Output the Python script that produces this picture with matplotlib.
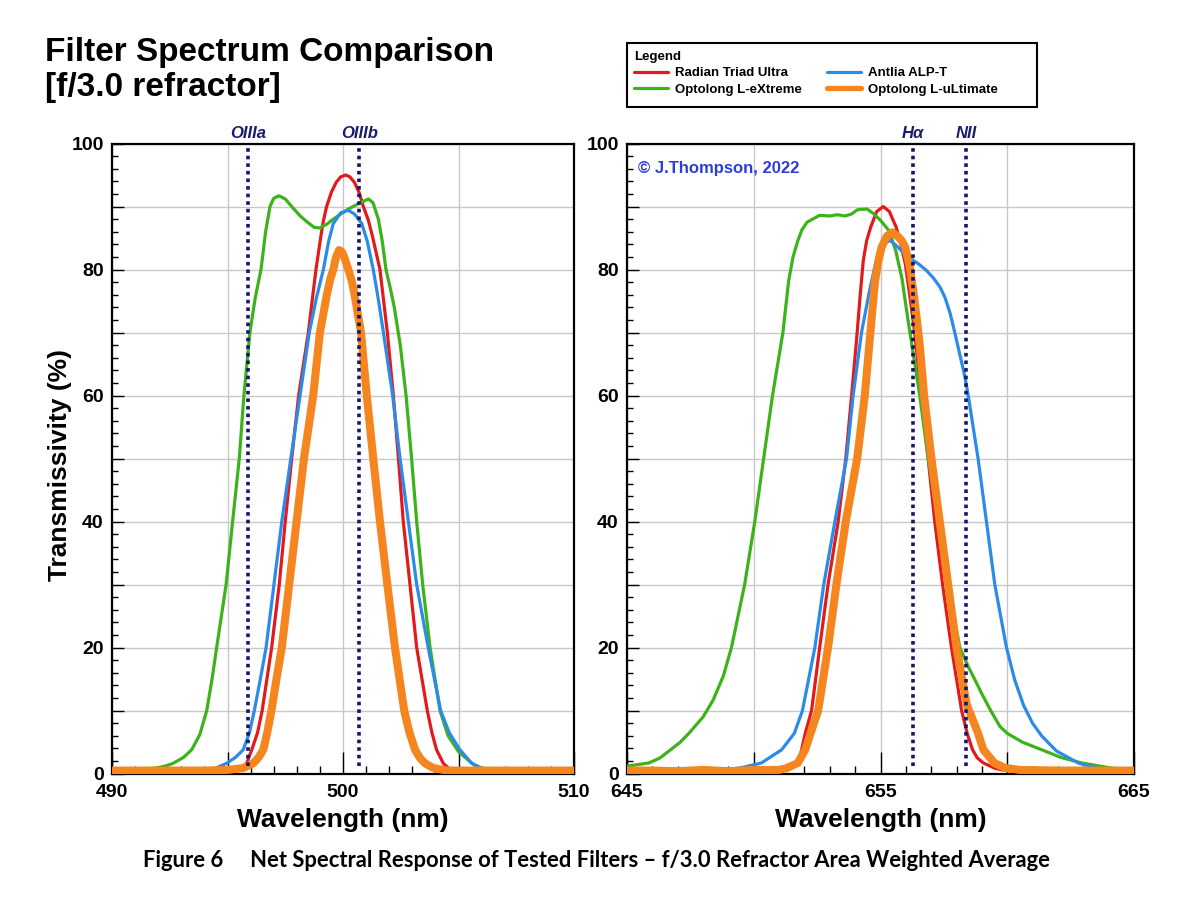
import matplotlib
matplotlib.use('Agg')
import matplotlib.pyplot as plt
from matplotlib.ticker import MultipleLocator, FuncFormatter
from matplotlib.lines import Line2D
from matplotlib.patches import Rectangle
import matplotlib.transforms as mtransforms

plt.rcParams['font.family'] = ['Liberation Sans', 'DejaVu Sans']
plt.rcParams['font.weight'] = 'bold'

# ---------------- data: OIII panel ----------------
oiii_red_wl = [490, 492, 494, 495.0, 495.3, 495.54, 495.83, 496.05, 496.3, 496.5, 496.91, 497.24,
               497.5, 497.78, 498.08, 498.5, 498.68, 498.83, 499.03, 499.15, 499.29, 499.5, 499.7,
               499.9, 500.12, 500.3, 500.5, 500.7, 500.88, 501.1, 501.28, 501.6, 501.92, 502.18,
               502.4, 502.61, 502.9, 503.19, 503.65, 503.85, 504.05, 504.34, 504.56, 504.8, 505.2,
               507.0, 510]
oiii_red_T = [0.4, 0.4, 0.4, 0.5, 0.7, 0.9, 1.65, 3.8, 6.5, 10, 20, 30,
              40, 50, 60, 70, 75.5, 80, 85, 87.7, 90, 92.3, 93.8,
              94.7, 95.0, 94.7, 93.8, 92.2, 90, 87.8, 85.2, 80, 70, 60,
              50, 40, 30, 20, 10, 6.5, 3.8, 1.65, 0.9, 0.6, 0.45,
              0.4, 0.4]

oiii_blue_wl = [490, 493, 493.6, 494.0, 494.5, 494.96, 495.35, 495.68, 495.95, 496.16, 496.42,
                496.67, 497.01, 497.35, 497.74, 498.14, 498.54, 498.85, 499.15, 499.38, 499.58,
                499.9, 500.23, 500.5, 500.81, 501.05, 501.31, 501.52, 501.75, 502.15, 502.47,
                502.83, 503.19, 503.69, 504.23, 504.6, 505.06, 505.57, 505.93, 506.5, 507.2, 510]
oiii_blue_T = [0.3, 0.3, 0.4, 0.5, 0.9, 1.65, 2.6, 3.8, 6.5, 10, 15,
               20, 30, 40, 50, 60, 70, 75.5, 80, 84.5, 87.3,
               89.0, 89.4, 88.8, 87.3, 84.5, 80, 75.5, 70, 60, 50,
               40, 30, 20, 10, 6.5, 3.8, 1.65, 0.9, 0.5, 0.4, 0.3]

oiii_green_wl = [490, 491, 491.9, 492.3, 492.65, 493.1, 493.45, 493.8, 494.1, 494.33, 494.53,
                 494.94, 495.22, 495.51, 495.71, 495.97, 496.2, 496.45, 496.65, 496.84, 497.0,
                 497.23, 497.5, 497.85, 498.15, 498.43, 498.75, 499.0, 499.3, 499.58, 499.9,
                 500.23, 500.7, 501.1, 501.3, 501.53, 501.7, 501.86, 502.05, 502.22, 502.48,
                 502.73, 502.97, 503.19, 503.45, 503.77, 504.2, 504.55, 505.0, 505.6, 506.0,
                 506.5, 507.0, 510]
oiii_green_T = [0.5, 0.6, 0.9, 1.2, 1.65, 2.6, 3.8, 6.2, 10, 15, 20,
                30, 40, 50, 60, 70, 75.5, 80, 86, 90, 91.3,
                91.7, 91.2, 89.7, 88.5, 87.6, 86.7, 86.6, 87.2, 88.0, 88.8,
                89.6, 90.5, 91.2, 90.6, 88.0, 84.5, 80, 77, 74, 68,
                60, 50, 40, 30, 20, 10, 6.0, 3.5, 1.6, 0.9,
                0.6, 0.5, 0.4]

oiii_orange_wl = [490, 492, 494, 495.0, 495.68, 496.12, 496.35, 496.55, 496.72, 496.9, 497.12,
                  497.35, 497.67, 497.99, 498.31, 498.71, 499.0, 499.3, 499.45, 499.58, 499.7,
                  499.83, 499.95, 500.05, 500.23, 500.38, 500.5, 500.78, 501.03, 501.31, 501.6,
                  501.92, 502.25, 502.65, 502.88, 503.12, 503.33, 503.55, 503.91, 504.5, 507, 510]
oiii_orange_T = [0.5, 0.5, 0.5, 0.6, 0.9, 1.65, 2.6, 3.8, 6.5, 10, 15,
                 20, 30, 40, 50, 60, 70, 76, 78.5, 80, 82,
                 83.1, 82.8, 82, 80, 78.2, 76, 70, 60, 50, 40,
                 30, 20, 10, 6.5, 3.8, 2.5, 1.65, 0.9, 0.5, 0.5, 0.5]

# ---------------- data: H-alpha panel ----------------
ha_red_wl = [645, 648, 650, 650.6, 651.0, 651.45, 651.74, 651.89, 652.03, 652.28, 652.6, 652.93,
             653.33, 653.63, 653.86, 654.08, 654.2, 654.32, 654.45, 654.61, 654.85, 655.11,
             655.35, 655.62, 655.8, 655.98, 656.15, 656.35, 656.6, 656.88, 657.14, 657.45,
             657.8, 658.2, 658.42, 658.63, 658.82, 659.06, 659.49, 659.8, 660.3, 662, 665]
ha_red_T = [0.3, 0.3, 0.3, 0.4, 0.5, 0.9, 1.7, 3.8, 6.4, 10, 20, 30,
            40, 50, 60, 70, 76, 81.4, 84.5, 86.7, 89.2, 90.0,
            89.2, 86.7, 84, 80.9, 76, 70, 60, 50, 40, 30,
            20, 10, 6.4, 3.8, 2.5, 1.7, 0.9, 0.6, 0.4, 0.3, 0.3]

ha_blue_wl = [645, 647, 648.5, 649.45, 650.3, 651.1, 651.6, 651.92, 652.41, 652.76, 653.2, 653.66,
              653.92, 654.25, 654.54, 654.75, 654.9, 655.15, 655.4, 655.7, 655.95, 656.19, 656.5,
              656.8, 657.1, 657.35, 657.55, 657.75, 657.93, 658.13, 658.33, 658.46, 658.85,
              659.18, 659.51, 659.97, 660.3, 660.65, 661.0, 661.36, 661.94, 662.8, 663.52, 664.3,
              665]
ha_blue_T = [0.3, 0.3, 0.5, 0.9, 1.7, 3.8, 6.4, 10, 20, 30, 40, 50,
             60, 70, 76.1, 80, 82.5, 84.2, 84.6, 83.5, 82.5, 81.7, 80.9,
             79.9, 78.6, 77.2, 75.5, 73, 70, 66.5, 63, 60, 50,
             40, 30, 20, 14.8, 10.8, 8.0, 6.0, 3.6, 1.7, 0.9, 0.4,
             0.3]

ha_green_wl = [645, 645.86, 646.3, 646.72, 647.1, 647.44, 648.0, 648.4, 648.8, 649.12, 649.64,
               650.04, 650.39, 650.74, 651.15, 651.38, 651.55, 651.74, 651.9, 652.1, 652.32,
               652.6, 653.0, 653.3, 653.6, 653.85, 654.1, 654.47, 654.75, 655.0, 655.33, 655.6,
               655.85, 656.03, 656.16, 656.55, 656.88, 657.28, 657.67, 658.13, 658.46, 658.75,
               659.02, 659.35, 659.71, 660.0, 660.6, 661.36, 662.1, 662.94, 664.09, 665]
ha_green_T = [1.2, 1.7, 2.5, 3.8, 5.0, 6.4, 9.0, 11.7, 15.5, 20, 30,
              40, 50, 60, 70, 78.3, 82, 84.6, 86.3, 87.5, 88.0,
              88.6, 88.5, 88.7, 88.5, 88.8, 89.5, 89.6, 88.8, 87.8, 86.2, 83.0,
              78.5, 73.5, 70, 60, 50, 40, 30, 20, 17.0, 14.7,
              12.5, 10.0, 7.5, 6.4, 5.0, 3.8, 2.6, 1.7, 0.9, 0.6]

ha_orange_wl = [645, 646, 647, 648, 649, 650, 651.0, 651.31, 651.74, 652.03, 652.24, 652.54, 652.93,
                653.26, 653.63, 654.08, 654.38, 654.6, 654.78, 654.9, 655.04, 655.25, 655.47,
                655.7, 655.85, 655.98, 656.15, 656.3, 656.45, 656.55, 656.72, 657.01, 657.34,
                657.67, 658.0, 658.4, 658.85, 659.06, 659.49, 659.92, 660.5, 662, 665]
ha_orange_T = [0.5, 0.5, 0.4, 0.6, 0.4, 0.6, 0.6, 0.9, 1.7, 3.8, 6.4, 10, 20,
               30, 40, 50, 60, 70, 78, 81, 83.5, 85.3, 85.9,
               85.2, 84.5, 83.5, 80.5, 76.5, 71.5, 68, 60, 50, 40,
               30, 20, 11, 6.4, 3.8, 1.7, 0.9, 0.6, 0.5, 0.5]

series_names = ['Radian Triad Ultra', 'Optolong L-eXtreme', 'Antlia ALP-T', 'Optolong L-uLtimate']
series_colors = ['#e31a1c', '#3db31b', '#2c8be8', '#f5861f']
series_widths = [2.3, 2.3, 2.3, 5.8]

oiii_lines = [495.9, 500.7]
oiii_line_labels = ['OIIIa', 'OIIIb']
ha_lines = [656.28, 658.37]
ha_line_labels = ['H\u03b1', 'NII']

oiii_xlabels = [490, 500, 510]
ha_xlabels = [645, 655, 665]

title_text = 'Filter Spectrum Comparison\n[f/3.0 refractor]'
caption_text = ('Figure 6     Net Spectral Response of Tested Filters \u2013 '
                'f/3.0 Refractor Area Weighted Average')
copyright_text = '\u00a9 J.Thompson, 2022'

# ---------------- figure ----------------
W, H = 1200, 900
fig = plt.figure(figsize=(12, 9), dpi=100)
ax1 = fig.add_axes([112 / W, 1 - 773.7 / H, 462 / W, 630.2 / H])
ax2 = fig.add_axes([627 / W, 1 - 773.7 / H, 507 / W, 630.2 / H])


def style(ax, xmin, xmax, xlabels):
    ax.set_xlim(xmin, xmax)
    ax.set_ylim(0, 100)
    ax.xaxis.set_major_locator(MultipleLocator(5))
    ax.xaxis.set_minor_locator(MultipleLocator(1))
    ax.yaxis.set_major_locator(MultipleLocator(10))
    ax.yaxis.set_minor_locator(MultipleLocator(2))
    ax.xaxis.set_major_formatter(
        FuncFormatter(lambda v, p: f'{v:.0f}' if int(round(v)) in xlabels else ''))
    ax.yaxis.set_major_formatter(
        FuncFormatter(lambda v, p: f'{v:.0f}' if int(round(v)) % 20 == 0 else ''))
    ax.grid(True, which='major', color='#c8c8c8', lw=1.0)
    ax.set_axisbelow(True)
    ax.tick_params(axis='x', which='major', direction='in', length=15.5, width=1.0,
                   pad=7.2, labelsize=14, top=False)
    ax.tick_params(axis='x', which='minor', direction='in', length=6, width=1.0, top=False)
    ax.tick_params(axis='y', which='major', direction='in', length=8.5, width=1.0,
                   pad=6, labelsize=14, right=False)
    ax.tick_params(axis='y', which='minor', direction='in', length=4.3, width=1.0, right=False)
    for s in ax.spines.values():
        s.set_linewidth(1.6)
        s.set_color('black')
    ax.set_xlabel('Wavelength (nm)', fontsize=19, fontweight='bold')
    ax.xaxis.set_label_coords(0.5, -0.0545)


style(ax1, 490, 510, oiii_xlabels)
style(ax2, 645, 665, ha_xlabels)

oiii_data = [(oiii_red_wl, oiii_red_T), (oiii_green_wl, oiii_green_T),
             (oiii_blue_wl, oiii_blue_T), (oiii_orange_wl, oiii_orange_T)]
ha_data = [(ha_red_wl, ha_red_T), (ha_green_wl, ha_green_T),
           (ha_blue_wl, ha_blue_T), (ha_orange_wl, ha_orange_T)]

for ax, data in ((ax1, oiii_data), (ax2, ha_data)):
    for (wl, t), c, lw in zip(data, series_colors, series_widths):
        ax.plot(wl, t, color=c, lw=lw, solid_joinstyle='round', solid_capstyle='round',
                zorder=3, clip_on=True)

line_color = '#16166a'
for ax, xs, labs in ((ax1, oiii_lines, oiii_line_labels), (ax2, ha_lines, ha_line_labels)):
    trans = mtransforms.blended_transform_factory(ax.transData, ax.transAxes)
    for x, lab in zip(xs, labs):
        ax.axvline(x, ymin=0.012, ymax=1.0, color=line_color, lw=2.6, ls=(0, (1, 1.1)), zorder=5)
        ax.text(x, 1.0087, lab, transform=trans, ha='center', va='baseline', fontsize=12,
                fontstyle='italic', fontweight='bold', color='#1c1c6e')

ax1.set_ylabel('Transmissivity (%)', fontsize=19, fontweight='bold')
ax1.yaxis.set_label_coords(-0.0866, 0.49)

# title
fig.text(45 / W, 1 - 37 / H, title_text, fontsize=24, fontweight='bold', ha='left', va='top',
         linespacing=1.18)

# copyright
fig.text(638 / W, 1 - 168 / H, copyright_text, color='#2c3ed6', fontsize=12,
         fontweight='bold', ha='left', va='center')

# legend
handles = [Line2D([], [], color=c, lw=(2.3 if lw < 4 else 3.8), solid_capstyle='round')
           for c, lw in zip(series_colors, series_widths)]
leg = fig.legend(handles, series_names, loc='upper left',
                 bbox_to_anchor=(634 / W, 1 - 51 / H), ncol=2, frameon=False,
                 borderpad=0, borderaxespad=0, title='Legend',
                 title_fontproperties={'weight': 'bold', 'size': 9.5}, alignment='left',
                 prop={'weight': 'bold', 'size': 9.5}, handlelength=2.6, handletextpad=0.5,
                 columnspacing=1.9, labelspacing=0.32)
frame = Rectangle((627.3 / W, 1 - 106.7 / H), (1036.7 - 627.3) / W, (106.7 - 43.3) / H,
                  transform=fig.transFigure, fill=False, edgecolor='black', lw=1.5)
fig.add_artist(frame)

# caption
cap = fig.text(596.5 / W, 1 - 866.7 / H, caption_text, fontsize=16, fontweight='bold',
               family=['Lato', 'DejaVu Sans'], ha='center', va='baseline')
fig.canvas.draw()
bb = cap.get_window_extent()
cap.set_fontsize(16 * 907 / bb.width)

fig.savefig('out.png', dpi=100)
